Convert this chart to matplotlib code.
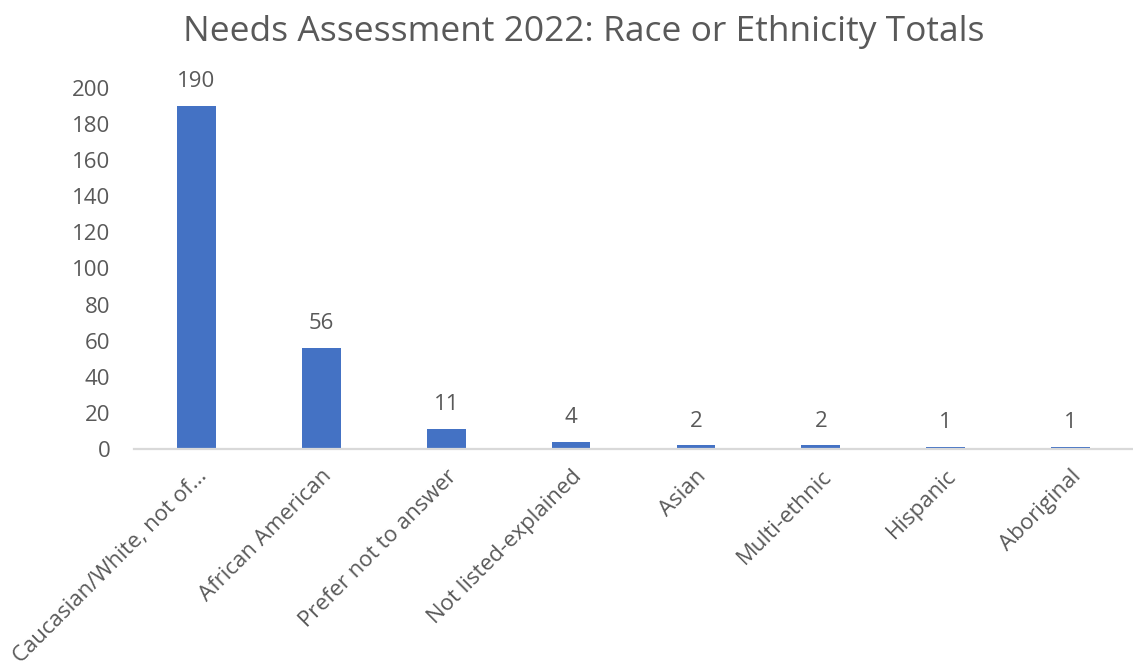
import matplotlib.pyplot as plt

plt.rcParams['font.family'] = ['Open Sans', 'DejaVu Sans']

categories = ['Caucasian/White, not of...', 'African American', 'Prefer not to answer',
              'Not listed-explained', 'Asian', 'Multi-ethnic', 'Hispanic', 'Aboriginal']
totals = [190, 56, 11, 4, 2, 2, 1, 1]
yticks = [0, 20, 40, 60, 80, 100, 120, 140, 160, 180, 200]

text_color = '#595959'
bar_color = '#4472C4'


def main():
    fig = plt.figure(figsize=(11.33, 6.62), dpi=100)
    ax = fig.add_axes([134 / 1133, 1 - 449 / 662, 1 - 134 / 1133, 361 / 662])

    x = list(range(len(categories)))
    bars = ax.bar(x, totals, width=0.31, color=bar_color)
    for b, v in zip(bars, totals):
        ax.annotate(str(v), (b.get_x() + b.get_width() / 2, v), xytext=(0, 10),
                    textcoords='offset points', ha='center', va='bottom',
                    fontsize=16, color=text_color)

    ax.set_xlim(-0.5, len(categories) - 0.5)
    ax.set_ylim(0, 200)
    ax.set_yticks(yticks)
    ax.set_yticklabels([str(t) for t in yticks], fontsize=16, color=text_color)
    ax.set_xticks(x)
    ax.set_xticklabels(categories, rotation=45, ha='right', va='top',
                       rotation_mode='anchor', fontsize=16, color=text_color)
    ax.tick_params(axis='both', length=0)
    ax.tick_params(axis='y', pad=17)
    ax.tick_params(axis='x', pad=12)

    for s in ['top', 'right', 'left']:
        ax.spines[s].set_visible(False)
    # axis line sits over the bars, hiding the tiny ones as in the original
    ax.spines['bottom'].set_color('#D9D9D9')
    ax.spines['bottom'].set_linewidth(1.6)
    ax.spines['bottom'].set_zorder(3)

    fig.text(584 / 1133, 1 - 32 / 662, 'Needs Assessment 2022: Race or Ethnicity Totals',
             ha='center', va='center', fontsize=25.5, color=text_color)

    fig.savefig('out.png', dpi=100)


if __name__ == '__main__':
    main()
